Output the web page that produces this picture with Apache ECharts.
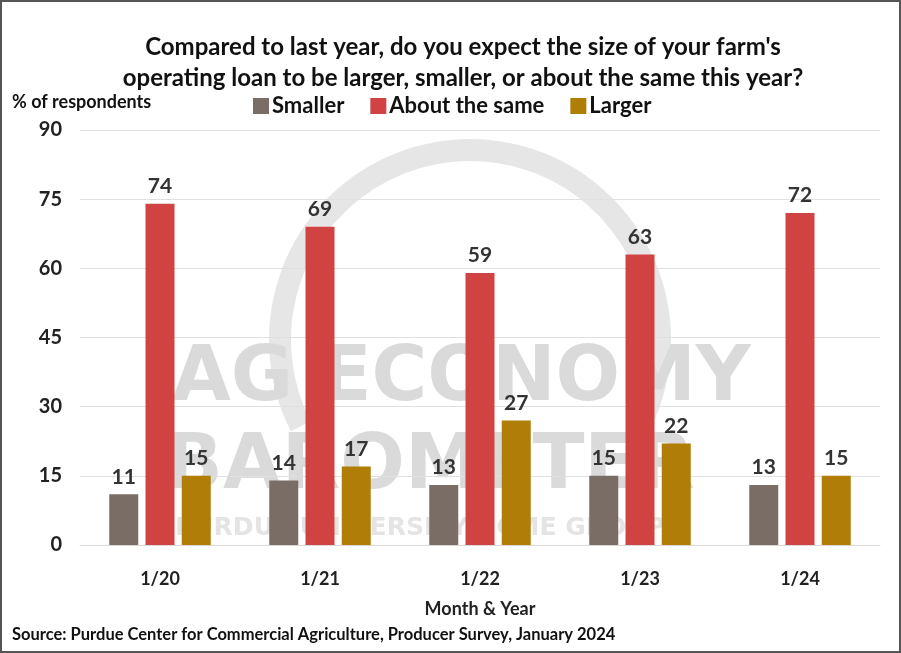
<!DOCTYPE html>
<html lang="en">
<head>
    <meta charset="UTF-8">
    <title>Operating loan size</title>
    <script src="https://cdn.jsdelivr.net/npm/echarts@6/dist/echarts.min.js"></script>
    <style>
        html, body { margin: 0; padding: 0; background: #fff; }
    </style>
</head>
<body>
<div id="main" style="width: 901px;height:653px;"></div>

<script>
    // data
    const categories = ['1/20', '1/21', '1/22', '1/23', '1/24'];
    const smaller = [11, 14, 13, 15, 13];
    const aboutSame = [74, 69, 59, 63, 72];
    const larger = [15, 17, 27, 22, 15];
    const yTicks = [0, 15, 30, 45, 60, 75, 90];

    const font = 'Lato';

    function barSeries(name, data, color) {
        return {
            name: name,
            type: 'bar',
            data: data,
            barWidth: 29,
            barGap: '25%',
            itemStyle: { color: color },
            label: {
                show: true,
                position: 'top',
                distance: 7,
                color: '#333',
                fontFamily: font,
                fontWeight: 'bold',
                fontSize: 21
            }
        };
    }

    let myChart = echarts.init(document.getElementById('main'));
    let option = {
        backgroundColor: '#fff',
        textStyle: { fontFamily: font },
        title: {
            text: "Compared to last year, do you expect the size of your farm's\noperating loan to be larger, smaller, or about the same this year?",
            left: 458,
            textAlign: 'center',
            top: 27,
            textStyle: {
                fontFamily: font,
                fontWeight: 'bold',
                fontSize: 24,
                lineHeight: 31,
                color: '#111'
            }
        },
        legend: {
            data: ['Smaller', 'About the same', 'Larger'],
            left: 253,
            top: 95,
            padding: 0,
            itemWidth: 16,
            itemHeight: 16,
            itemGap: 26,
            icon: 'rect',
            textStyle: { fontFamily: font, fontWeight: 'bold', fontSize: 22, color: '#111', padding: [0, 0, 0, -2] }
        },
        grid: { left: 80, right: 21, top: 130, bottom: 108 },
        xAxis: {
            type: 'category',
            data: categories,
            name: 'Month & Year',
            nameLocation: 'middle',
            nameGap: 55,
            nameTextStyle: { fontFamily: font, fontWeight: 'bold', fontSize: 18, color: '#222' },
            axisLine: { lineStyle: { color: '#d9d9d9' } },
            axisTick: { show: false },
            axisLabel: { margin: 25, fontFamily: font, fontWeight: 'bold', fontSize: 18, color: '#222' }
        },
        yAxis: {
            type: 'value',
            min: yTicks[0],
            max: yTicks[yTicks.length - 1],
            interval: 15,
            name: '% of respondents',
            nameLocation: 'end',
            nameGap: 19,
            nameTextStyle: { align: 'left', padding: [0, 0, 0, -68], fontFamily: font, fontWeight: 'bold', fontSize: 18, color: '#111' },
            axisLabel: { margin: 18, fontFamily: font, fontWeight: 'bold', fontSize: 20, color: '#222' },
            splitLine: { lineStyle: { color: '#e0e0e0' } }
        },
        graphic: [
            {
                type: 'arc', z: 0, silent: true,
                shape: { cx: 470, cy: 340, r: 190, startAngle: Math.PI * 0.85, endAngle: Math.PI * 2.15 },
                style: { stroke: '#e6e6e6', lineWidth: 22, fill: null }
            },
            {
                type: 'text', z: 0, silent: true, left: 172, top: 342,
                style: { text: 'AG ECONOMY', fontFamily: 'DejaVu Sans', fontWeight: 'bold', fontSize: 76, fill: '#dadada' }
            },
            {
                type: 'text', z: 0, silent: true, left: 165, top: 430,
                style: { text: 'BAROMETER', fontFamily: 'DejaVu Sans', fontWeight: 'bold', fontSize: 76, fill: '#dadada' }
            },
            {
                type: 'text', z: 0, silent: true, left: 175, top: 516,
                style: { text: 'PURDUE UNIVERSITY - CME GROUP', fontFamily: 'DejaVu Sans', fontWeight: 'bold', fontSize: 25, fill: '#e4e4e4' }
            },
            {
                type: 'text', left: 12, top: 626,
                style: { text: 'Source: Purdue Center for Commercial Agriculture, Producer Survey, January 2024', fontFamily: font, fontWeight: 'bold', fontSize: 16.5, fill: '#111' }
            },
            {
                type: 'rect', z: 100, silent: true,
                shape: { x: 1, y: 1, width: 899, height: 651 },
                style: { fill: null, stroke: '#555', lineWidth: 2 }
            }
        ],
        series: [
            barSeries('Smaller', smaller, '#7a6d66'),
            barSeries('About the same', aboutSame, '#d14343'),
            barSeries('Larger', larger, '#b07d07')
        ]
    };
    myChart.setOption(option);
</script>
</body>
</html>
